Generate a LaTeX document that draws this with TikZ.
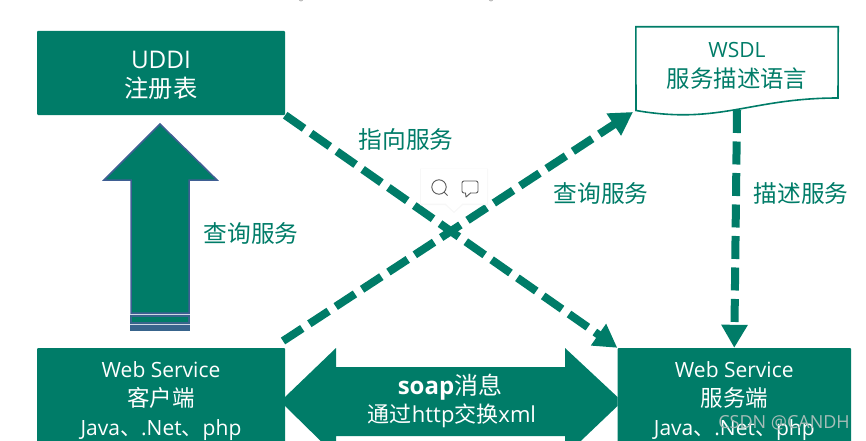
\documentclass[tikz,border=0pt]{standalone}
\usepackage{fontspec}
\setmainfont{Open Sans}
\newfontfamily\cjkf{Noto Sans CJK SC}
\newcommand{\cj}[1]{{\cjkf #1}}
\newcommand{\dn}[1]{\raisebox{-2.2pt}[\height][\depth]{#1}}
\usetikzlibrary{arrows.meta}
\definecolor{wsgreen}{HTML}{007C68}
\definecolor{wsblue}{HTML}{3F5E93}
\definecolor{wsband}{HTML}{38648C}
\definecolor{wsmark}{HTML}{A6BDB8}
\tikzset{
  greenbox/.style={fill=wsgreen,text=white,inner sep=0pt,align=center,rounded corners=1pt},
  lbl/.style={text=wsgreen,inner sep=0pt,font=\fontsize{23.7}{27}\selectfont},
  dashline/.style={draw=wsgreen,line width=8pt,dash pattern=on 23pt off 8.5pt},
  diaghead/.style={-{Triangle[width=25pt,length=23pt,fill=wsgreen]}},
}
\begin{document}
\begin{tikzpicture}[x=1pt,y=-1pt]
\useasboundingbox (0,0) rectangle (866,441);
\clip (0,0) rectangle (866,441);
% faint marks at the top edge
\fill[black!25] (301,-1) circle (2.5);
\fill[black!25] (491,-1) circle (2.5);
% boxes
\node[greenbox,minimum width=248pt,minimum height=84pt,font=\fontsize{24.3}{29}\selectfont] (uddi) at (161,73) {\dn{UDDI}\\\dn{\cj{注册表}}};
\node[greenbox,minimum width=248pt,minimum height=102pt,font=\fontsize{21}{29}\selectfont] (client) at (161,399) {\dn{Web Service}\\\dn{\cj{\fontsize{22.5}{29}\selectfont 客户端}}\\\dn{Java\cj{、}.Net\cj{、}php}};
\node[greenbox,minimum width=233.5pt,minimum height=102pt,font=\fontsize{21}{29}\selectfont] (server) at (734.25,399) {\dn{Web Service}\\\dn{\cj{\fontsize{22.5}{29}\selectfont 服务端}}\\\dn{Java\cj{、}.Net\cj{、}php}};
% WSDL document
\node[text=wsgreen,inner sep=0pt,align=center,minimum width=202pt,minimum height=74pt,font=\fontsize{23.4}{30}\selectfont] (wsdl) at (737,64) {\dn{\fontsize{21}{30}\selectfont WSDL}\\\dn{\cj{服务描述语言}}};
\coordinate (docL) at (636,110.5);
\coordinate (docR) at (838,98);
\coordinate (docB) at (737,110);
\draw[wsgreen,line width=1.6pt,line join=miter] (wsdl.north west) -- (wsdl.north east) -- (docR) .. controls (750,98) and (720,125) .. (docL) -- cycle;
% big up arrow
\draw[draw=wsblue,fill=wsgreen,line width=1.5pt,line join=miter] (160,124) -- (217,180) -- (189,180) -- (189,313) -- (131,313) -- (131,180) -- (104,180) -- cycle;
\fill[wsband] (130.3,315) rectangle (189.7,331);
\fill[wsgreen] (132,316.5) rectangle (188,322);
\draw[white!75!wsblue,line width=.8pt] (130.3,314.3) -- (189.7,314.3) (130.3,324.5) -- (189.7,324.5);
% double arrow
\fill[wsgreen] (285,397) -- (336,348) -- (336,367) -- (565,367) -- (565,348) -- (617.5,397) -- (617.5,406) -- (565,456) -- (565,436) -- (336,436) -- (336,456) -- (285,406) -- cycle;
\node[text=white,inner sep=0pt,font=\fontsize{24}{26}\selectfont\bfseries] (soap) at (450,387) {soap\cj{\mdseries 消息}};
\node[text=white,inner sep=0pt,font=\fontsize{22}{24}\selectfont] (via) at (452,416) {\cj{通过}http\cj{交换}xml};
% connectors
\coordinate (cliStart) at (283,341);
\coordinate (docTip) at (633,112);
\draw[dashline,diaghead] (uddi.south east) -- (server.north west);
\draw[dashline,diaghead] (cliStart) -- (docTip);
\draw[dashline,diaghead] (docB) -- (server.north);
% labels
\node[lbl] (l1) at (406,139) {\cj{指向服务}};
\node[lbl] (l2) at (601,193) {\cj{查询服务}};
\node[lbl] (l3) at (801,193) {\cj{描述服务}};
\node[lbl] (l4) at (251,233) {\cj{查询服务}};
% popup
\fill[black!3] (420,168.5) rectangle (488,205) (444,204) -- (454,213) -- (464,204) -- cycle;
\fill[white] (421,169) rectangle (487,203.5) (445,203) -- (454,211.5) -- (463,203) -- cycle;
\draw[black!65,line width=.9pt] (439,187) circle (7.2) (444.5,192.5) -- (447.5,195.5);
\draw[black!65,line width=.9pt,rounded corners=2pt,line join=round] (462,181) rectangle (478,193);
\fill[white] (465.5,192) rectangle (470,194);
\draw[black!65,line width=.9pt,line join=round] (465.5,193) -- (466,197) -- (470.5,193);
% watermark
\node[text=wsmark,inner sep=0pt,font=\fontsize{18}{20}\selectfont] (mark) at (784,423) {CSDN @CANDH};
\end{tikzpicture}
\end{document}
